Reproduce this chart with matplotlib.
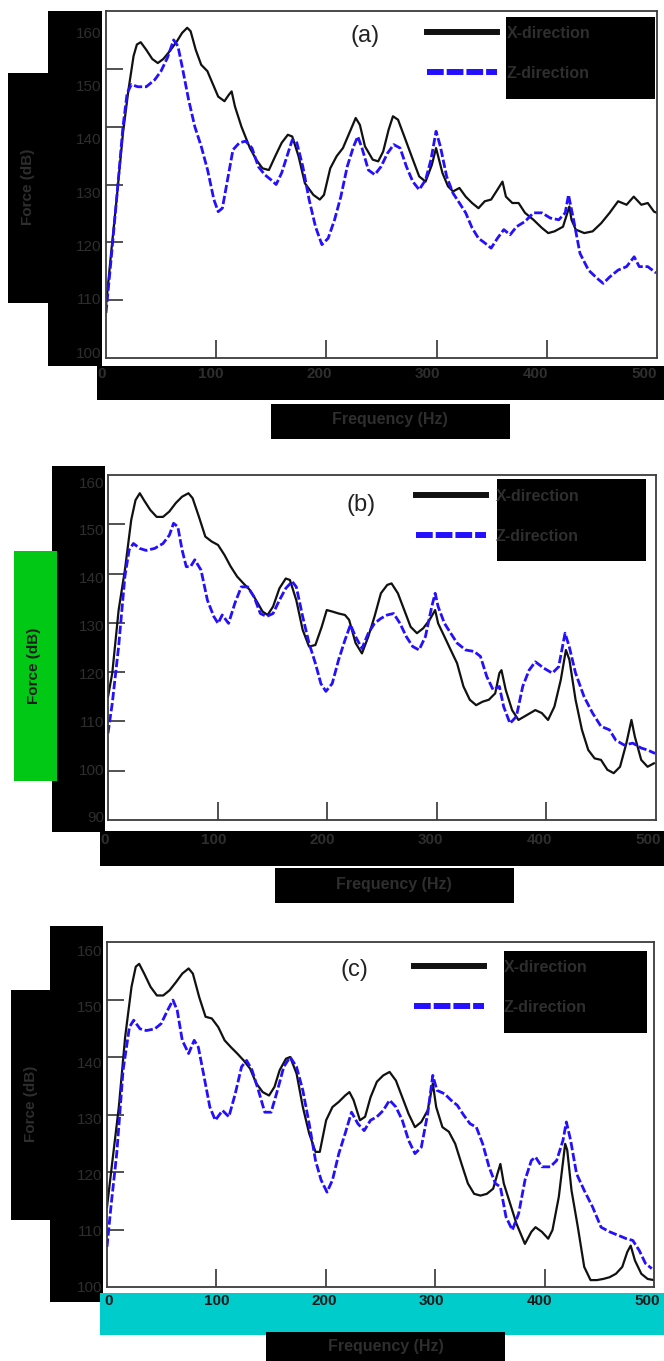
import numpy as np
import matplotlib
matplotlib.use('Agg')
import matplotlib.pyplot as plt
from matplotlib.patches import Rectangle

plt.rcParams['font.family'] = ['Liberation Sans', 'DejaVu Sans']

# ---- data ----
freq_a_x = [0, 4.6, 9.6, 15.4, 20.4, 25, 28, 31.5, 36.5, 42,
            47, 52, 57.6, 64.5, 69, 73.7, 76.8, 81.4, 86.4, 92,
            96, 101.8, 107.5, 111.4, 114, 117, 122.9, 130.6, 136.3, 142,
            147.8, 153.6, 159.4, 165, 169, 174.7, 180.5, 188.2, 194, 197.8,
            203.5, 209.3, 215, 220.8, 226.6, 230.4, 235, 242, 247, 251.5,
            256.5, 260.4, 265, 270.7, 277.3, 284.2, 290, 295.7, 299.5, 305.3,
            310.3, 314.9, 320.7, 326.4, 332.2, 338, 343.7, 349.5, 355.2, 359.8,
            362.9, 368.7, 374.4, 380.2, 387.9, 395.5, 401.3, 407, 414.7, 420.5,
            422.4, 426.3, 434, 441.6, 449.3, 457, 464.7, 472.4, 478.9, 485.8,
            491.6, 497.3, 500]
force_a_x = [109, 118.1, 127.4, 138.9, 146.4, 152.2, 154.2, 154.6, 153.3, 151.7,
             151.0, 151.7, 153.0, 154.8, 156.2, 157.1, 156.5, 153.3, 150.7, 149.6,
             147.8, 145.2, 144.4, 145.5, 146.1, 143.5, 140.0, 136.3, 134.3, 132.8,
             132.5, 134.9, 137.2, 138.6, 138.3, 134.9, 130.2, 128.2, 127.4, 128.2,
             132.8, 134.9, 136.3, 138.9, 141.5, 140.3, 136.6, 134.3, 134.0, 135.7,
             139.5, 141.8, 141.2, 138.3, 134.9, 131.4, 130.5, 133.4, 136.3, 132.0,
             129.7, 128.8, 129.4, 127.9, 126.8, 125.9, 127.1, 127.4, 129.1, 130.5,
             127.9, 126.8, 126.8, 125.1, 123.9, 122.5, 121.6, 121.9, 122.7, 126.2,
             123.9, 122.2, 121.6, 121.9, 123.3, 125.1, 127.1, 126.5, 127.9, 126.5,
             126.8, 125.3, 125.1]

freq_a_z = [0, 4.6, 9.6, 15.4, 19.2, 23, 28.8, 36.5, 44.2, 49.9,
            55.7, 61.4, 65.3, 69.1, 74.9, 80.6, 86.4, 92.2, 97.9, 101.8,
            105.6, 111.4, 115.2, 121, 126.7, 132.5, 138.2, 144, 149.8, 154.4,
            159.4, 165.1, 169, 172.8, 178.6, 184.3, 190.1, 195.9, 201.6, 207.4,
            213.1, 218.9, 224.7, 228.5, 232.3, 238.1, 243.9, 249.6, 255.4, 261.1,
            266.9, 272.6, 278.4, 284.2, 290, 294.9, 299.5, 303.4, 309.1, 314.9,
            320.7, 326.4, 332.2, 338, 343.7, 349.5, 355.2, 361, 366.7, 372.5,
            380.2, 387.9, 395.5, 403.2, 410.9, 416.7, 419.7, 424.3, 430.1, 437.8,
            445.5, 451.2, 457, 464.7, 472.4, 479.3, 483.9, 491.6, 499.2]
force_a_z = [107.8, 117.0, 127.4, 140.0, 145.8, 147.3, 146.9, 146.9, 148.1, 149.6,
             151.9, 155.0, 153.9, 150.4, 144.7, 140.0, 136.6, 132.5, 127.4, 125.3,
             125.9, 132.0, 136.0, 137.2, 137.5, 136.3, 133.1, 131.7, 130.8, 130.0,
             132.0, 135.4, 137.7, 137.5, 133.1, 127.4, 122.7, 119.6, 120.7, 123.9,
             127.9, 133.1, 136.6, 138.3, 136.3, 132.5, 131.7, 133.1, 135.4, 136.9,
             136.3, 133.1, 130.5, 129.1, 130.8, 134.3, 139.2, 136.6, 131.4, 128.5,
             126.8, 125.1, 122.5, 120.7, 119.9, 119.0, 120.7, 122.2, 121.3, 122.7,
             123.6, 125.1, 125.1, 124.2, 123.9, 125.1, 128.2, 123.9, 118.1, 115.2,
             113.8, 112.9, 114.0, 115.2, 115.8, 117.5, 115.8, 115.8, 114.7]

freq_b_x = [0, 3.9, 9.7, 15.4, 21.2, 25.1, 29, 32.8, 38.6, 44.4,
            50.2, 56, 61.8, 67.6, 73.4, 77.2, 83, 88.8, 94.6, 100.4,
            106.2, 112, 117.8, 123.6, 129.3, 135.1, 141, 145.6, 150.6, 156.4,
            162.2, 166, 171.8, 177.6, 183.4, 189.2, 195, 199.6, 204.6, 210.4,
            216.2, 220, 225.9, 231.7, 237.5, 243.2, 249, 254.8, 258.7, 264.5,
            270.3, 276.1, 281.9, 287.6, 293.4, 298.5, 301.2, 307, 312.7, 318.5,
            324.3, 330.1, 335.9, 341.7, 347.5, 353.3, 357.1, 359, 362.9, 368.7,
            374.5, 382.2, 389.9, 395.8, 401.5, 407.3, 413.1, 417.8, 421, 426.6,
            432.4, 438.2, 444, 449.8, 455.6, 461.4, 467.2, 473, 477.6, 480.7,
            486.5, 492.3, 498.1]
force_b_x = [115.0, 119.8, 132.6, 140.7, 150.9, 154.9, 156.3, 154.9, 152.9, 151.5,
             151.5, 152.6, 154.3, 155.6, 156.3, 155.3, 151.5, 147.5, 146.5, 145.8,
             143.8, 141.4, 139.4, 138.0, 136.7, 134.6, 132.3, 131.6, 133.3, 137.0,
             139.0, 138.7, 134.6, 128.6, 125.2, 125.5, 129.2, 132.6, 132.3, 131.9,
             131.6, 130.6, 125.9, 123.8, 127.2, 131.3, 136.0, 137.7, 138.0, 136.0,
             132.6, 129.2, 127.9, 128.9, 130.6, 132.6, 129.9, 127.2, 124.5, 121.8,
             117.1, 114.4, 113.3, 114.0, 114.4, 115.7, 119.8, 120.4, 116.4, 112.3,
             110.3, 111.3, 112.3, 111.7, 110.3, 113.0, 118.4, 124.5, 122.5, 114.4,
             108.3, 104.2, 102.5, 102.2, 100.2, 99.5, 100.8, 105.6, 110.3, 106.9,
             102.2, 100.8, 101.5]

freq_b_z = [0, 3.9, 9.7, 15.4, 19.3, 23.2, 29, 34.7, 42.5, 50.2,
            56, 59.8, 63.7, 67.6, 71.4, 75.3, 79.2, 84.9, 90.7, 96.5,
            100.4, 104.2, 110, 115.8, 121.6, 127.4, 133.2, 139, 144.8, 150.6,
            156.4, 162.2, 168, 171.8, 177.6, 183.4, 189.2, 194.2, 198.8, 204.6,
            210.4, 216.2, 221.2, 225.9, 231.7, 237.5, 243.2, 249, 254.8, 260.6,
            266.4, 272.2, 278, 283.8, 289.6, 295.4, 298.5, 301.2, 307, 312.7,
            318.5, 326.3, 334, 339.8, 345.6, 351.4, 357.1, 361, 366.8, 372.6,
            378.4, 384.2, 389.9, 397.7, 405.4, 411.2, 417, 420.8, 426.6, 434.4,
            442.1, 449.8, 457.5, 463.3, 471, 478.8, 486.5, 492.3, 499.2]
force_b_z = [107.6, 113.7, 125.2, 139.4, 144.8, 146.1, 145.1, 144.7, 145.1, 146.1,
             147.8, 150.2, 149.5, 144.8, 141.4, 141.4, 142.8, 140.7, 134.6, 131.3,
             129.9, 131.6, 129.9, 134.0, 137.3, 137.3, 135.3, 131.9, 131.3, 131.9,
             134.6, 137.0, 138.4, 137.3, 131.3, 125.9, 121.8, 117.7, 116.1, 117.7,
             122.5, 126.5, 129.6, 127.2, 124.8, 127.9, 129.9, 130.9, 131.6, 131.9,
             129.9, 127.2, 125.2, 124.5, 127.2, 133.3, 136.0, 133.3, 129.9, 127.9,
             125.9, 124.5, 124.2, 123.2, 119.1, 116.4, 117.1, 113.0, 109.6, 111.0,
             117.1, 120.4, 122.1, 120.8, 119.8, 121.1, 127.9, 125.2, 119.8, 115.0,
             111.7, 109.0, 108.3, 106.2, 105.2, 105.6, 104.6, 104.2, 103.5]

freq_c_x = [0, 5, 10.8, 16.6, 22.4, 26.3, 29.4, 34, 39.8, 45.6,
            51.4, 57.2, 63, 68.8, 74.6, 78.5, 84.3, 90.1, 95.8, 101.7,
            107.5, 113.3, 119.1, 124.9, 130.7, 136.5, 142.3, 148.1, 153.1, 157.8,
            163.6, 167.4, 173.3, 179, 184.8, 190.6, 194.5, 200.3, 206.1, 211.9,
            217.7, 221.6, 225.4, 231.2, 235.9, 240.9, 246.7, 252.5, 258.3, 264.1,
            269.9, 275.7, 281.5, 287.3, 293.1, 297.8, 300.9, 306.6, 312.5, 318.3,
            324.1, 329.9, 335.6, 341.4, 347.2, 353, 356.9, 359.6, 362.7, 368.5,
            374.3, 382, 387.9, 391.7, 397.5, 403.3, 407.2, 413, 418.8, 420.7,
            424.6, 430.4, 436.2, 442, 447.8, 453.6, 459.4, 465.2, 471, 475.6,
            478.7, 482.6, 488.4, 494.2, 500]
force_c_x = [113.9, 122.0, 131.3, 143.5, 152.2, 155.7, 156.2, 154.5, 152.2, 150.7,
             150.7, 151.6, 153.0, 154.5, 155.4, 154.5, 150.4, 147.0, 146.7, 145.2,
             142.9, 141.7, 140.6, 139.4, 138.0, 135.4, 133.9, 133.3, 134.8, 137.7,
             139.7, 140.0, 137.1, 131.3, 126.7, 123.5, 123.5, 129.0, 131.3, 132.2,
             133.3, 133.9, 132.5, 129.0, 129.6, 133.0, 135.7, 136.8, 137.4, 135.9,
             133.0, 130.1, 127.8, 128.7, 130.7, 135.4, 131.3, 127.8, 127.0, 124.9,
             121.4, 118.0, 116.2, 115.9, 116.2, 117.1, 119.7, 121.4, 118.0, 114.5,
             111.0, 107.5, 109.6, 110.4, 109.6, 108.4, 109.9, 115.7, 124.9, 123.8,
             116.8, 110.4, 103.5, 101.2, 101.2, 101.4, 101.7, 102.3, 103.5, 106.1,
             107.2, 104.6, 102.3, 101.4, 101.2]

freq_c_z = [0, 3.9, 8.9, 14.7, 20.5, 24.4, 30.2, 36, 43.7, 49.5,
            55.3, 60.3, 64.2, 68.8, 74.6, 79.7, 83.5, 88.2, 94, 99,
            105.6, 111.4, 117.2, 123, 127.6, 132.6, 138.4, 144.2, 150, 155.8,
            161.6, 167.4, 173.2, 179, 184.8, 190.6, 195.7, 201.1, 206.1, 211.9,
            217.7, 223.5, 229.3, 235.1, 240.9, 246.7, 252.5, 258.3, 264.1, 269.9,
            275.7, 281.5, 287.3, 293.1, 297.8, 301.6, 308.6, 314.4, 320.2, 326,
            331.8, 337.6, 343.4, 349.2, 355, 359.6, 364.7, 370.5, 376.3, 382.1,
            387.9, 391.7, 397.5, 405.2, 411, 416.8, 419.9, 423.8, 429.2, 436.2,
            443.9, 451.6, 459.4, 467.1, 474.8, 480.6, 486.4, 492.2, 498]
force_c_z = [107.0, 114.5, 123.2, 137.7, 145.2, 146.4, 144.9, 144.6, 144.9, 145.8,
             148.1, 149.9, 148.1, 142.9, 140.6, 142.9, 141.7, 137.1, 131.3, 129.0,
             130.7, 129.6, 133.6, 138.3, 139.4, 137.7, 134.2, 130.4, 130.4, 134.2,
             138.3, 140.0, 138.3, 134.2, 128.4, 122.0, 118.6, 116.5, 118.6, 123.2,
             126.7, 130.4, 128.4, 127.2, 129.0, 129.6, 130.7, 132.5, 131.3, 129.0,
             125.5, 123.2, 124.3, 130.1, 136.8, 134.2, 133.6, 132.5, 131.6, 129.9,
             128.4, 127.8, 124.9, 120.9, 118.0, 117.4, 112.2, 109.9, 112.8, 118.6,
             122.0, 122.6, 120.9, 120.9, 122.0, 125.5, 128.7, 125.5, 119.7, 116.8,
             113.9, 110.4, 109.6, 109.0, 108.4, 108.1, 106.4, 104.1, 103.2]

x_ticks = [0, 100, 200, 300, 400, 500]
series_names = ['X-direction', 'Z-direction']
panel_tags = ['(a)', '(b)', '(c)']

# ---- layout (pixels in a 664 x 1361 canvas) ----
W, H = 664, 1361
fig = plt.figure(figsize=(W / 100, H / 100), dpi=100)


def box(x0, y0, x1, y1):
    return [x0 / W, 1 - y1 / H, (x1 - x0) / W, (y1 - y0) / H]


def rect(x0, y0, x1, y1, color):
    fig.add_artist(Rectangle((x0 / W, 1 - y1 / H), (x1 - x0) / W, (y1 - y0) / H,
                             transform=fig.transFigure, facecolor=color,
                             edgecolor='none', zorder=1))


GREEN = '#00c814'
CYAN = '#00cccc'
DIM = '#2e2e2e'

panels = [
    dict(data=(freq_a_x, force_a_x, freq_a_z, force_a_z), ymin=100,
         frame=(106, 11, 657, 358), yticks=[110, 120, 130, 140, 150],
         ylab=(103, 32, 352), xlab=(102, 644, 367), xlab_color=DIM,
         rects=[(48, 11, 102, 366, 'k'), (8, 73, 48, 303, 'k'),
                (97, 366, 664, 400, 'k'), (271, 404, 510, 439, 'k'),
                (506, 17, 655, 99, 'k')],
         force=(28, 187, DIM), freq=(390, 420), tag=(365, 36),
         legend=(427, 26, 0.6)),
    dict(data=(freq_b_x, force_b_x, freq_b_z, force_b_z), ymin=90,
         frame=(108, 475, 656, 820), yticks=[100, 110, 120, 130, 140, 150],
         ylab=(106, 482, 817), xlab=(105, 648, 833), xlab_color=DIM,
         rects=[(52, 466, 105, 832, 'k'), (14, 551, 57, 781, GREEN),
                (100, 831, 664, 866, 'k'), (275, 868, 514, 903, 'k'),
                (497, 479, 646, 561, 'k')],
         force=(34, 666, '#1e1e1e'), freq=(394, 885), tag=(361, 505),
         legend=(416, 489, 0.6)),
    dict(data=(freq_c_x, force_c_x, freq_c_z, force_c_z), ymin=100,
         frame=(107, 942, 654, 1287), yticks=[110, 120, 130, 140, 150],
         ylab=(104, 951, 1287), xlab=(109, 647, 1294), xlab_color='#1a1a1a',
         rects=[(50, 926, 103, 1302, 'k'), (11, 990, 50, 1220, 'k'),
                (100, 1293, 664, 1335, CYAN), (266, 1332, 505, 1361, 'k'),
                (504, 951, 647, 1033, 'k')],
         force=(31, 1104, DIM), freq=(386, 1347), tag=(354, 970),
         legend=(414, 960, 1.2)),
]

for p, tag in zip(panels, panel_tags):
    fx, vx, fz, vz = p['data']
    ax = fig.add_axes(box(*p['frame']))
    lx_line, = ax.plot(fx, vx, color='#111111', lw=1.6, label=series_names[0])
    lz_line, = ax.plot(fz, vz, color='#2410ff', lw=2.0, dashes=(3, 1), label=series_names[1])
    ax.set_xlim(0, 500)
    ax.set_ylim(p['ymin'], 160)
    ax.set_xticks([100, 200, 300, 400])
    ax.set_yticks(p['yticks'])
    ax.tick_params(direction='in', width=1.1, color='#222222',
                   labelleft=False, labelbottom=False)
    ax.tick_params(axis='y', length=12.5)
    ax.tick_params(axis='x', length=13)
    for s in ax.spines.values():
        s.set_color('#3c3c3c')
        s.set_linewidth(1.3)

    # black / coloured blocks
    for r in p['rects']:
        rect(*r)

    # y tick labels (offset from the tick marks, as in the source)
    xr, yt, yb = p['ylab']
    ly = fig.add_axes(box(xr, yt, xr + 4, yb))
    ly.set_ylim(p['ymin'], 160)
    ly.set_yticks(range(p['ymin'], 161, 10))
    ly.set_xticks([])
    ly.tick_params(length=0, pad=1, labelsize=11, labelcolor=DIM)
    ly.patch.set_visible(False)
    for s in ly.spines.values():
        s.set_visible(False)
    ly.set_zorder(5)

    # x tick labels
    x0, x1, ytop = p['xlab']
    lx = fig.add_axes(box(x0, ytop - 10, x1, ytop))
    lx.set_xlim(0, 500)
    lx.set_xticks(x_ticks)
    lx.set_yticks([])
    lx.tick_params(length=0, pad=0, labelsize=11, labelcolor=p['xlab_color'])
    for t in lx.get_xticklabels():
        t.set_fontweight('bold')
    lx.patch.set_visible(False)
    for s in lx.spines.values():
        s.set_visible(False)
    lx.set_zorder(5)

    fxp, fyp, fcol = p['force']
    fig.text(fxp / W, 1 - fyp / H, 'Force (dB)', rotation=90, ha='center', va='center',
             fontsize=11, fontweight='bold', color=fcol, zorder=6)
    qx, qy = p['freq']
    fig.text(qx / W, 1 - qy / H, 'Frequency (Hz)', ha='center', va='center',
             fontsize=11.5, fontweight='bold', color=DIM, zorder=6)
    tx, ty = p['tag']
    fig.text(tx / W, 1 - ty / H, tag, ha='center', va='center',
             fontsize=17, color='#222222', zorder=6)

    lgx, lgy, pad = p['legend']
    leg = fig.legend(handles=[lx_line, lz_line], loc='upper left',
                     bbox_to_anchor=(lgx / W, 1 - lgy / H),
                     bbox_transform=fig.transFigure, frameon=False, borderpad=0,
                     borderaxespad=0, handlelength=4.4, handletextpad=pad,
                     labelspacing=1.55, prop=dict(size=11.5, weight='bold'))
    for t in leg.get_texts():
        t.set_color(DIM)
    leg_lines = leg.get_lines()
    for ln in leg_lines:
        ln.set_linewidth(4.3)
    leg_lines[1].set_dashes([2.8, 0.5])
    leg.set_zorder(6)

fig.savefig('out.png', dpi=100)
